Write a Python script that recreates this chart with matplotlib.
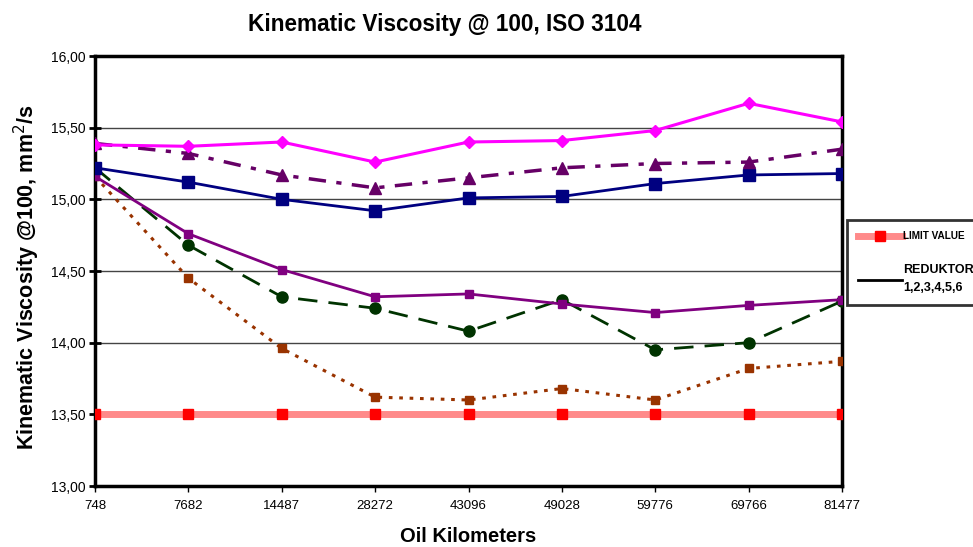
import matplotlib
matplotlib.use("Agg")
import matplotlib.pyplot as plt
from matplotlib.lines import Line2D
from matplotlib.ticker import FuncFormatter

categories = ["748", "7682", "14487", "28272", "43096", "49028", "59776", "69766", "81477"]
s_magenta = [15.38, 15.37, 15.40, 15.26, 15.40, 15.41, 15.48, 15.67, 15.54]
s_triangle = [15.39, 15.32, 15.17, 15.08, 15.15, 15.22, 15.25, 15.26, 15.35]
s_navy = [15.22, 15.12, 15.00, 14.92, 15.01, 15.02, 15.11, 15.17, 15.18]
s_purple = [15.16, 14.76, 14.51, 14.32, 14.34, 14.27, 14.21, 14.26, 14.30]
s_green = [15.22, 14.68, 14.32, 14.24, 14.08, 14.30, 13.95, 14.00, 14.29]
s_brown = [15.16, 14.45, 13.96, 13.62, 13.60, 13.68, 13.60, 13.82, 13.87]
limit = [13.5] * 9
yticks = [13.0, 13.5, 14.0, 14.5, 15.0, 15.5, 16.0]

FONT = ["Liberation Sans", "DejaVu Sans"]
plt.rcParams["font.family"] = FONT

fig = plt.figure(figsize=(9.73, 5.47), dpi=100)
ax = fig.add_axes([95/973, 61/547, 747/973, 430/547])
x = list(range(len(categories)))

for yv in yticks[1:-1]:
    ax.axhline(yv, color="#444444", lw=1.0, zorder=1)

ax.plot(x, limit, color="#FF8A8A", lw=5, marker="s", ms=7, mfc="#FF0000", mec="#FF0000", zorder=3)
ax.plot(x, s_brown, color="#993300", lw=2.2, ls=(0, (1.2, 2.2)), marker="s", ms=6, mfc="#993300", mec="#993300", zorder=4)
ax.plot(x, s_green, color="#003300", lw=2.0, ls=(0, (7, 4)), marker="o", ms=8, mfc="#003300", mec="#003300", zorder=4)
ax.plot(x, s_purple, color="#800080", lw=2.0, marker="s", ms=6, mfc="#800080", mec="#800080", zorder=4)
ax.plot(x, s_navy, color="#000080", lw=2.0, marker="s", ms=8, mfc="#000080", mec="#000080", zorder=4)
ax.plot(x, s_triangle, color="#660066", lw=2.5, ls=(0, (5, 3, 1.5, 3)), marker="^", ms=8, mfc="#660066", mec="#660066", zorder=4)
ax.plot(x, s_magenta, color="#FF00FF", lw=2.2, marker="D", ms=6, mfc="#FF00FF", mec="#FF00FF", zorder=4)

ax.set_xlim(0, len(categories) - 1)
ax.set_ylim(yticks[0], yticks[-1])
ax.set_xticks(x)
ax.set_xticklabels(categories, fontsize=9.5)
ax.set_yticks(yticks)
ax.yaxis.set_major_formatter(FuncFormatter(lambda v, p: f"{v:.2f}".replace(".", ",")))
for lab in ax.get_yticklabels():
    lab.set_fontsize(10)
ax.tick_params(axis="y", direction="inout", length=8, width=2, pad=3)
ax.tick_params(axis="x", direction="out", length=4, width=1, pad=6)
for sp in ax.spines.values():
    sp.set_linewidth(2.5)
    sp.set_color("black")
ax.set_facecolor("white")

fig.text(445/973, 1 - 24/547, "Kinematic Viscosity @ 100, ISO 3104", ha="center", va="center",
         fontsize=16.3, fontweight="bold")
fig.text(468/973, 1 - 536/547, "Oil Kilometers", ha="center", va="center",
         fontsize=14.5, fontweight="bold")
fig.text(27/973, 1 - 277/547, "Kinematic Viscosity @100, mm$^2$/s", ha="center", va="center",
         rotation=90, fontsize=15.5, fontweight="bold")

handles = [
    Line2D([], [], color="#FF8A8A", lw=5, marker="s", ms=7, mfc="#FF0000", mec="#FF0000"),
    Line2D([], [], color="black", lw=2),
]
leg = fig.legend(handles, ["LIMIT VALUE", "REDUKTOR\n1,2,3,4,5,6"], loc="upper left",
                 bbox_to_anchor=(847/973, 1 - 220/547), frameon=True, fancybox=False,
                 edgecolor="black", handlelength=4.4, handletextpad=0.1, labelspacing=2.3,
                 borderpad=1.1, borderaxespad=0.0,
                 prop={"weight": "bold", "size": 7.2})
leg.get_frame().set_linewidth(2)
for t in leg.get_texts()[1:]:
    t.set_fontsize(9)
    t.set_linespacing(1.7)

fig.savefig("out.png", dpi=100)
